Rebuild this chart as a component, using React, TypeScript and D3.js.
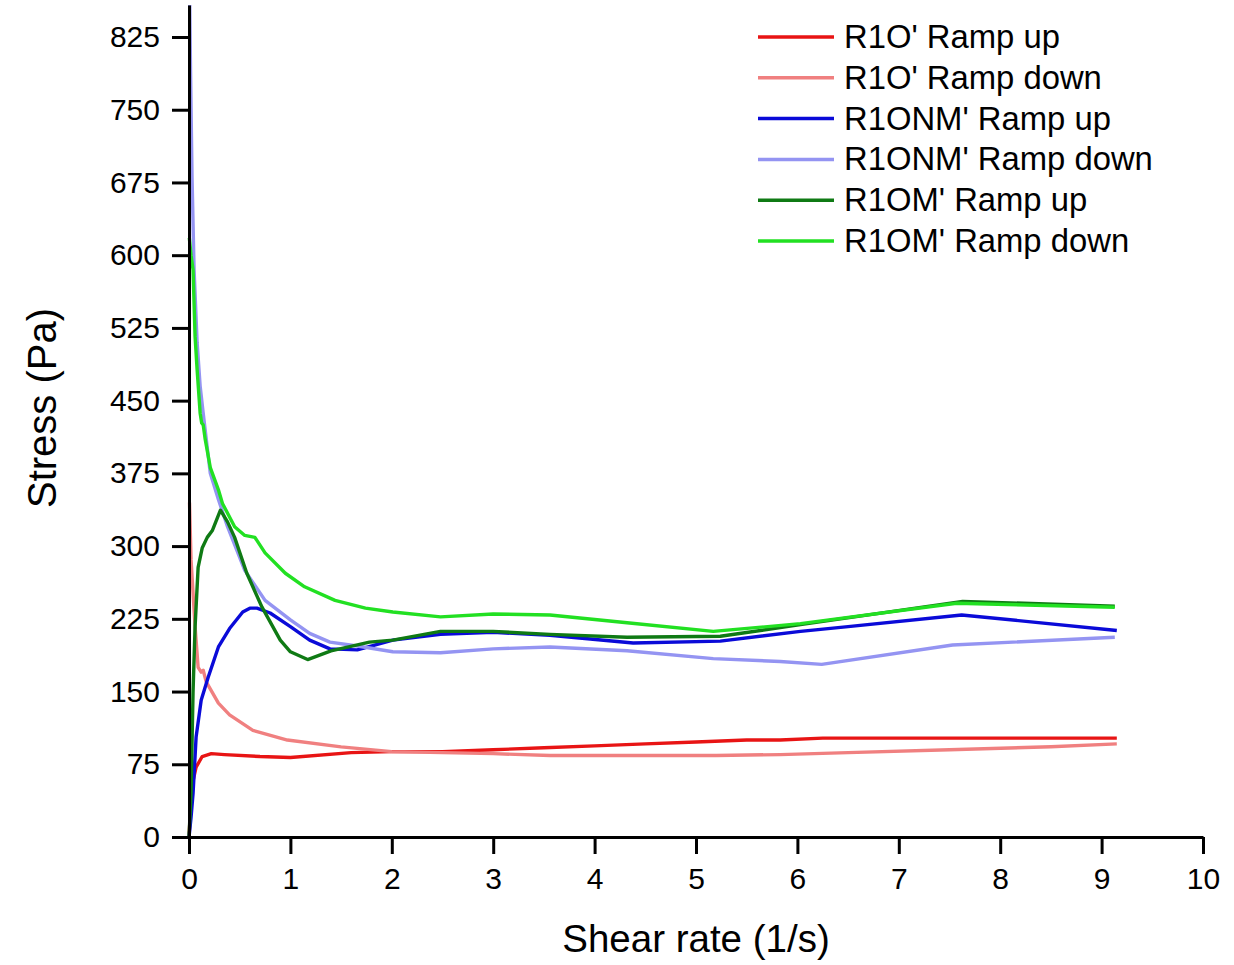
import React, { useEffect, useRef } from "react";
import * as d3 from "d3";

// R1O' ramp up / down
const r1oUpX = [0, 0.02, 0.04, 0.07, 0.13, 0.22, 0.35, 0.7, 1.0, 1.6, 2.0, 2.5, 3.0, 3.5, 4.0, 4.5, 5.0, 5.5, 5.83, 6.25, 7.0, 8.0, 9.15];
const r1oUpY = [0, 38, 58, 72, 83, 86, 85, 83, 82, 87, 88, 88, 90, 92, 94, 96, 98, 100, 100, 102, 102, 102, 102];
const r1oDownX = [0.005, 0.02, 0.06, 0.09, 0.12, 0.14, 0.17, 0.29, 0.4, 0.63, 0.97, 1.5, 2.0, 2.5, 3.0, 3.56, 4.3, 5.2, 5.83, 6.5, 7.5, 8.5, 9.15];
const r1oDownY = [345, 286, 217, 175, 170, 172, 160, 138, 126, 110, 100, 93, 88, 87, 86, 84, 84, 84, 85, 87, 90, 93, 96];

// R1ONM' ramp up / down
const r1onmUpX = [0, 0.02, 0.04, 0.07, 0.12, 0.19, 0.29, 0.4, 0.53, 0.6, 0.67, 0.8, 1.0, 1.19, 1.39, 1.66, 2.01, 2.48, 3.0, 3.56, 4.38, 5.24, 6.03, 6.5, 7.62, 9.15];
const r1onmUpY = [0, 20, 45, 103, 141, 165, 196, 215, 232, 236, 236, 231, 217, 203, 194, 193, 203, 209, 211, 208, 200, 202, 212, 217, 229, 213];
const r1onmDownX = [0.005, 0.015, 0.03, 0.05, 0.08, 0.11, 0.14, 0.21, 0.29, 0.38, 0.55, 0.75, 1.0, 1.19, 1.39, 1.66, 2.01, 2.48, 3.0, 3.56, 4.32, 5.17, 5.83, 6.24, 7.53, 9.13];
const r1onmDownY = [880, 790, 680, 585, 510, 465, 437, 375, 348, 320, 275, 244, 224, 210, 201, 197, 191, 190, 194, 196, 192, 184, 181, 178, 198, 206];

// R1OM' ramp up / down
const r1omUpX = [0, 0.02, 0.04, 0.06, 0.09, 0.13, 0.18, 0.23, 0.31, 0.38, 0.45, 0.57, 0.72, 0.9, 1.0, 1.17, 1.4, 1.78, 2.01, 2.48, 3.0, 3.56, 4.32, 5.24, 6.03, 7.63, 9.13];
const r1omUpY = [0, 45, 150, 217, 278, 298, 309, 316, 337, 325, 309, 272, 237, 203, 191, 183, 192, 201, 203, 212, 212, 209, 206, 207, 219, 243, 238];
const r1omDownX = [0.003, 0.02, 0.04, 0.06, 0.08, 0.11, 0.125, 0.14, 0.16, 0.21, 0.29, 0.33, 0.45, 0.55, 0.65, 0.75, 0.95, 1.14, 1.44, 1.74, 2.01, 2.48, 3.0, 3.56, 4.32, 5.17, 6.03, 7.57, 9.13];
const r1omDownY = [618, 600, 585, 516, 482, 437, 427, 425, 410, 381, 358, 344, 320, 311, 309, 293, 272, 258, 244, 236, 232, 227, 230, 229, 221, 212, 220, 241, 237];

const xTicks = [0, 1, 2, 3, 4, 5, 6, 7, 8, 9, 10];
const yTicks = [0, 75, 150, 225, 300, 375, 450, 525, 600, 675, 750, 825];

const series = [
  { name: "R1O' Ramp up", xs: r1oUpX, ys: r1oUpY, color: "#e81414" },
  { name: "R1O' Ramp down", xs: r1oDownX, ys: r1oDownY, color: "#f08080" },
  { name: "R1ONM' Ramp up", xs: r1onmUpX, ys: r1onmUpY, color: "#0a0ad8" },
  { name: "R1ONM' Ramp down", xs: r1onmDownX, ys: r1onmDownY, color: "#9494f2" },
  { name: "R1OM' Ramp up", xs: r1omUpX, ys: r1omUpY, color: "#0f7a14" },
  { name: "R1OM' Ramp down", xs: r1omDownX, ys: r1omDownY, color: "#22e022" },
];

export default function App() {
  const svgRef = useRef<SVGSVGElement>(null);
  const width = 1234;
  const height = 965;

  useEffect(() => {
    if (!svgRef.current) return;
    const svg = d3.select(svgRef.current);
    svg.selectAll("*").remove();

    const font = "'Liberation Sans', Arial, sans-serif";
    const x = d3.scaleLinear().domain([0, 10]).range([189, 1203]);
    const y = d3.scaleLinear().domain([0, 858]).range([837, 5]);

    svg
      .append("defs")
      .append("clipPath")
      .attr("id", "plot-clip")
      .append("rect")
      .attr("x", 180)
      .attr("y", 5)
      .attr("width", 1030)
      .attr("height", 840);

    const line = d3
      .line<[number, number]>()
      .x((d) => x(d[0]))
      .y((d) => y(d[1]));

    const lines = svg.append("g").attr("clip-path", "url(#plot-clip)");
    series.forEach((s) => {
      const pts = s.xs.map((v, i) => [v, s.ys[i]] as [number, number]);
      lines
        .append("path")
        .attr("d", line(pts))
        .attr("fill", "none")
        .attr("stroke", s.color)
        .attr("stroke-width", 3.4)
        .attr("stroke-linejoin", "round");
    });

    // x axis
    const gx = svg
      .append("g")
      .attr("transform", `translate(0,${y(0)})`)
      .call(d3.axisBottom(x).tickValues(xTicks).tickSize(17).tickSizeOuter(0).tickPadding(14));
    gx.select(".domain").attr("stroke", "#000").attr("stroke-width", 3);
    gx.selectAll(".tick line").attr("stroke", "#000").attr("stroke-width", 3);
    gx.selectAll(".tick text")
      .attr("fill", "#000")
      .style("font-family", font)
      .style("font-size", "30px");

    // y axis
    const gy = svg
      .append("g")
      .attr("transform", `translate(${x(0)},0)`)
      .call(d3.axisLeft(y).tickValues(yTicks).tickSize(17).tickSizeOuter(0).tickPadding(12));
    gy.select(".domain").attr("stroke", "#000").attr("stroke-width", 3);
    gy.selectAll(".tick line").attr("stroke", "#000").attr("stroke-width", 3);
    gy.selectAll(".tick text")
      .attr("fill", "#000")
      .style("font-family", font)
      .style("font-size", "30px");

    svg
      .append("text")
      .attr("x", 696)
      .attr("y", 952)
      .attr("text-anchor", "middle")
      .style("font-family", font)
      .style("font-size", "38.5px")
      .text("Shear rate (1/s)");

    svg
      .append("text")
      .attr("transform", `translate(56,408) rotate(-90)`)
      .attr("text-anchor", "middle")
      .style("font-family", font)
      .style("font-size", "40px")
      .text("Stress (Pa)");

    // legend
    const legend = svg.append("g");
    series.forEach((s, i) => {
      const ly = 37 + i * 40.8;
      legend
        .append("line")
        .attr("x1", 758)
        .attr("x2", 834)
        .attr("y1", ly)
        .attr("y2", ly)
        .attr("stroke", s.color)
        .attr("stroke-width", 3.5);
      legend
        .append("text")
        .attr("x", 844)
        .attr("y", ly + 11)
        .style("font-family", font)
        .style("font-size", "32.8px")
        .text(s.name);
    });
  }, []);

  return (
    <svg
      ref={svgRef}
      width={width}
      height={height}
      style={{ position: "absolute", left: 0, top: 0, background: "#fff" }}
    ></svg>
  );
}
